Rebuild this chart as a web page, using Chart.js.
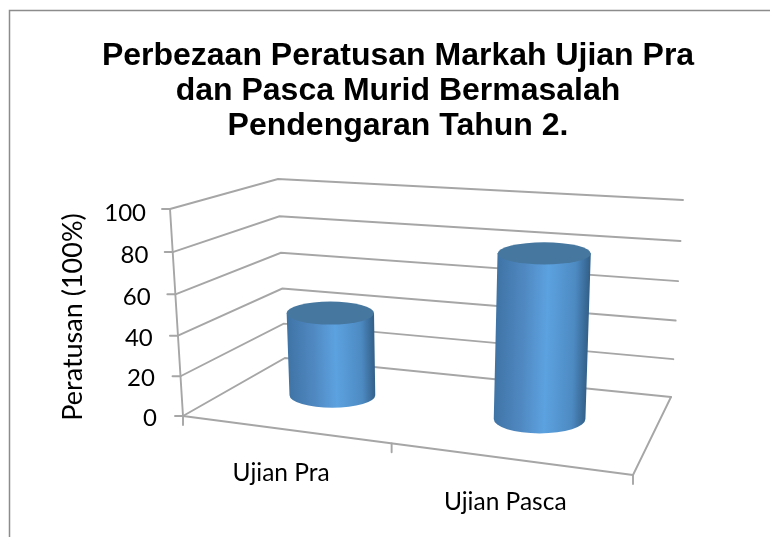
<!DOCTYPE html>
<html>
<head>
<meta charset="utf-8">
<style>html,body{margin:0;padding:0;background:#fff}#w{width:770px;height:537px;position:relative}</style>
<script src="https://cdn.jsdelivr.net/npm/chart.js@4"></script>
</head>
<body>
<div id="w"><canvas id="c" width="770" height="537"></canvas></div>
<script>
const categories = ["Ujian Pra", "Ujian Pasca"];
const seriesValues = [43, 81];
const titleLines = ["Perbezaan Peratusan Markah Ujian Pra", "dan Pasca Murid Bermasalah", "Pendengaran Tahun 2."];
const yAxisTitle = "Peratusan (100%)";

// Perspective frame of the 3D box: floor (value 0) and ceiling (value 100) corners
const floorQuad = [[183,416],[633,475],[671,397],[285,358]];
const ceilQuad  = [[170,209],[645,249],[683,200],[278,179]];
const verticalVanish = [431,4342];

function makeHomography(q){
  const [p0,p1,p2,p3]=q;
  const dx1=p1[0]-p2[0],dx2=p3[0]-p2[0],sx=p0[0]-p1[0]+p2[0]-p3[0];
  const dy1=p1[1]-p2[1],dy2=p3[1]-p2[1],sy=p0[1]-p1[1]+p2[1]-p3[1];
  const den=dx1*dy2-dx2*dy1;
  const g=(sx*dy2-dx2*sy)/den,h=(dx1*sy-sx*dy1)/den;
  const a=p1[0]-p0[0]+g*p1[0],b=p3[0]-p0[0]+h*p3[0],c=p0[0];
  const d=p1[1]-p0[1]+g*p1[1],e=p3[1]-p0[1]+h*p3[1],f=p0[1];
  return (u,w)=>{const n=g*u+h*w+1;return [(a*u+b*w+c)/n,(d*u+e*w+f)/n];};
}
const floorH=makeHomography(floorQuad), ceilH=makeHomography(ceilQuad);
function project(u,v,w){
  const uu=u+0.035*u*(1-u);
  const vv=v-0.05*v*(1-v);
  const A=floorH(uu,w),B=ceilH(uu,w);
  return [A[0]+(B[0]-A[0])*vv,A[1]+(B[1]-A[1])*vv];
}
const GRID='#a6a6a6', TEXT='#000';
const BAR_W=0.5, RU=0.101, RW=0.2, TOP_RY_GAIN=1.15;
function seg(ctx,a,b){ctx.beginPath();ctx.moveTo(a[0],a[1]);ctx.lineTo(b[0],b[1]);ctx.stroke();}

const box3d={
  id:'box3d',
  beforeDraw(chart){
    const ctx=chart.ctx;
    ctx.save();
    ctx.strokeStyle='#8c8c8c';ctx.lineWidth=1.5;
    ctx.beginPath();ctx.moveTo(770,10.5);ctx.lineTo(9.5,10.5);ctx.lineTo(9.5,537);ctx.stroke();
    ctx.restore();
  },
  beforeDatasetsDraw(chart){
    const ctx=chart.ctx,y=chart.scales.y,a=chart.chartArea;
    const vOf=t=>(a.bottom-y.getPixelForValue(t))/(a.bottom-a.top);
    ctx.save();
    ctx.strokeStyle=GRID;ctx.lineWidth=1.9;ctx.lineCap='round';
    y.ticks.forEach(t=>{
      const v=vOf(t.value),fl=project(0,v,0),bl=project(0,v,1),br=project(1,v,1);
      ctx.beginPath();ctx.moveTo(fl[0],fl[1]);ctx.lineTo(bl[0],bl[1]);ctx.lineTo(br[0],br[1]);ctx.stroke();
      seg(ctx,[fl[0]-8,fl[1]],fl);
    });
    seg(ctx,project(0,0,0),project(0,1,0));
    const fr=project(1,0,0);
    seg(ctx,project(0,0,0),fr);
    seg(ctx,fr,project(1,0,1));
    [0,0.5,1].forEach(u=>{const p=project(u,0,0);seg(ctx,p,[p[0],p[1]+9]);});
    ctx.restore();
  },
  afterDatasetsDraw(chart){
    const ctx=chart.ctx,a=chart.chartArea,y=chart.scales.y,x=chart.scales.x;
    const uOf=px=>(px-a.left)/(a.right-a.left);
    const vOf=px=>(a.bottom-px)/(a.bottom-a.top);
    ctx.save();
    chart.getDatasetMeta(0).data.forEach(el=>{
      const u=uOf(el.x),v=vOf(el.y);
      const extent=(vv)=>[
        (project(u+RU,vv,BAR_W)[0]-project(u-RU,vv,BAR_W)[0])/2,
        Math.abs(project(u,vv,BAR_W+RW)[1]-project(u,vv,BAR_W-RW)[1])/2
      ];
      const b=project(u,0,BAR_W);
      const topY=project(u,v,BAR_W)[1];
      const topX=b[0]+(b[0]-verticalVanish[0])/(verticalVanish[1]-b[1])*(b[1]-topY);
      const [brx0,bry]=extent(0);
      const [trx0,try0]=extent(v);
      const brx=21.5+0.545*brx0;
      const trx=brx+0.8,tryy=try0*TOP_RY_GAIN;
      const ax=topX-b[0],ay=topY-b[1],al=Math.hypot(ax,ay);
      const px=-ay/al,py=ax/al;
      const g=ctx.createLinearGradient(b[0]-px*brx,b[1]-py*brx,b[0]+px*brx,b[1]+py*brx);
      g.addColorStop(0,'#3f74a6');g.addColorStop(0.3,'#5089c2');g.addColorStop(0.55,'#5ca2e0');
      g.addColorStop(0.85,'#4d8ac2');g.addColorStop(1,'#33618a');
      ctx.fillStyle=g;
      ctx.beginPath();
      ctx.moveTo(topX-trx,topY);
      ctx.lineTo(b[0]-brx,b[1]);
      ctx.ellipse(b[0],b[1],brx,bry,0,Math.PI,0,true);
      ctx.lineTo(topX+trx,topY);
      ctx.closePath();ctx.fill();
      ctx.fillStyle='#46779f';
      ctx.beginPath();ctx.ellipse(topX,topY,trx,tryy,0,0,Math.PI*2);ctx.fill();
    });
    ctx.fillStyle=TEXT;
    ctx.font='24px Lato';
    ctx.textAlign='right';ctx.textBaseline='middle';
    y.ticks.forEach(t=>{
      const v=vOf(y.getPixelForValue(t.value));
      const p=project(0,v,0);
      ctx.fillText(t.label,p[0]-24-2*(1-v),p[1]+2+2*v*v);
    });
    ctx.font='24.5px Lato';
    ctx.textAlign='center';
    chart.data.labels.forEach((l,i)=>{
      const p=project(uOf(x.getPixelForValue(i)),0,0);
      ctx.fillText(l,p[0]-2.5,p[1]+44);
    });
    ctx.save();ctx.translate(73,317);ctx.rotate(-Math.PI/2);
    ctx.font='27px Lato';
    ctx.fillText(yAxisTitle,0,0);ctx.restore();
    ctx.restore();
  }
};

new Chart(document.getElementById('c'),{
  type:'bar',
  data:{labels:categories,datasets:[{label:yAxisTitle,data:seriesValues,backgroundColor:'rgba(0,0,0,0)',borderWidth:0}]},
  options:{
    responsive:false,animation:false,
    layout:{padding:{left:40,right:14,top:0,bottom:60}},
    scales:{
      x:{display:false,offset:true},
      y:{display:false,min:0,max:100,ticks:{stepSize:20}}
    },
    plugins:{
      legend:{display:false},tooltip:{enabled:false},
      title:{display:true,text:titleLines,color:'#000',
        font:{family:'"Liberation Sans"',size:32,weight:'bold',lineHeight:1.095},
        padding:{top:38.5,bottom:20}}
    }
  },
  plugins:[box3d]
});
</script>
</body>
</html>
